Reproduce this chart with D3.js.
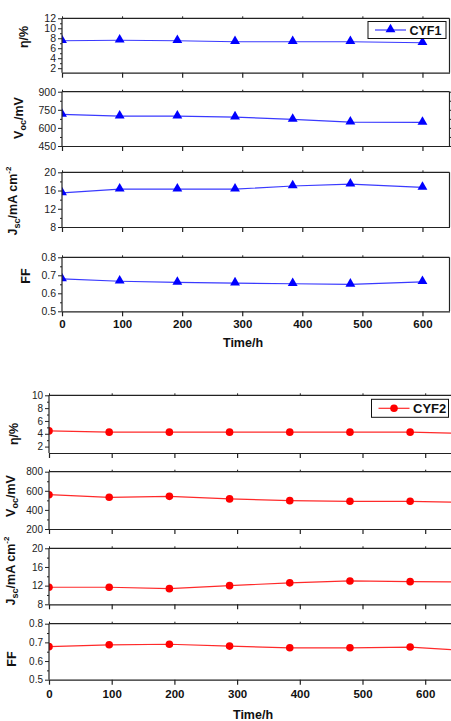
<!DOCTYPE html>
<meta charset="utf-8">
<head>
<title>CYF1 / CYF2 stability</title>
<script src="https://cdn.jsdelivr.net/npm/d3@7"></script>
<style>
body { margin:0; background:#fff; }
text { font-family: Arial, "Liberation Sans", sans-serif; }
</style>
</head>
<body>
<svg id=mySVG width=451 height=721></svg>

<script>
// ---- data ----
var time1 = [0, 96, 192, 288, 384, 480, 600]
var eta1  = [7.5, 7.6, 7.5, 7.3, 7.3, 7.3, 7.1]
var voc1  = [712, 697, 697, 690, 670, 648, 645]
var jsc1  = [15.5, 16.3, 16.3, 16.3, 17.0, 17.4, 16.7]
var ff1   = [0.68, 0.667, 0.661, 0.657, 0.653, 0.65, 0.664]

var time2 = [0, 96, 192, 288, 384, 480, 576, 672]
var eta2  = [4.45, 4.25, 4.25, 4.25, 4.25, 4.25, 4.25, 4.05]
var voc2  = [559, 532, 542, 515, 497, 490, 490, 478]
var jsc2  = [11.65, 11.65, 11.35, 12.0, 12.6, 13.0, 12.85, 12.8]
var ff2   = [0.677, 0.687, 0.69, 0.68, 0.671, 0.671, 0.675, 0.655]

var xTicks = [0, 100, 200, 300, 400, 500, 600]

var svg = d3.select("#mySVG")
var clipN = 0

//---layout of the two figures---
var fig1 = {
  name: "CYF1", color: "#0000ff", line: "#3a3aff", marker: "triangle",
  time: time1, xDomain: [0, 645], xRange: [62, 449.5], rightFrame: true,
  tickFont: 10.5, xTickY: 328.5, titleX: 243, titleY: 347,
  legend: {x: 368, y: 21.5, w: 78, h: 17, font: 12.5},
  panels: [
    {vals: eta1, dom: [1.1, 12], r: [72.7, 18.3], major: [2,4,6,8,10,12], minor: [3,5,7,9,11], lab: "eta", lx: 27.5, ly: 37},
    {vals: voc1, dom: [450, 900], r: [146, 91.7], major: [450,600,750,900], minor: [525,675,825], lab: "voc", lx: 23, ly: 118, right: true},
    {vals: jsc1, dom: [8, 20], r: [227, 172.3], major: [8,12,16,20], minor: [10,14,18], lab: "jsc", lx: 17, ly: 201},
    {vals: ff1, dom: [0.5, 0.8], r: [311.3, 257.3], major: [0.5,0.6,0.7,0.8], minor: [0.55,0.65,0.75], lab: "ff", lx: 29.5, ly: 276}
  ]
}
var fig2 = {
  name: "CYF2", color: "#ff0000", line: "#ff2a2a", marker: "circle",
  time: time2, xDomain: [0, 700], xRange: [49, 49 + 700 * 0.627], rightFrame: false,
  tickFont: 10, xTickY: 698, titleX: 253, titleY: 718.5,
  legend: {x: 371.5, y: 399.3, w: 77, h: 18, font: 13},
  panels: [
    {vals: eta2, dom: [1, 10], r: [453, 395.3], major: [2,4,6,8,10], minor: [3,5,7,9], lab: "eta", lx: 18, ly: 434},
    {vals: voc2, dom: [200, 800], r: [529, 471.7], major: [200,400,600,800], minor: [300,500,700], lab: "voc", lx: 15, ly: 496},
    {vals: jsc2, dom: [8, 20], r: [604.3, 548.3], major: [8,12,16,20], minor: [10,14,18], lab: "jsc", lx: 15, ly: 571},
    {vals: ff2, dom: [0.5, 0.8], r: [679.7, 623.7], major: [0.5,0.6,0.7,0.8], minor: [0.55,0.65,0.75], lab: "ff", lx: 16, ly: 659}
  ]
}

function drawMarker(g, kind, x, y, color)
{
  if(kind == "triangle")
    g.append("path")
     .attr("d", d3.symbol().type(d3.symbolTriangle).size(42)())
     .attr("transform", "translate(" + x + "," + (y - 0.5) + ")")
     .attr("fill", color)
  else
    g.append("circle").attr("cx", x).attr("cy", y).attr("r", 3.8).attr("fill", color)
}

function yLabel(g, kind, x, y)
{
  var t = g.append("text")
    .attr("transform", "translate(" + x + "," + y + ") rotate(-90)")
    .attr("text-anchor", "middle")
    .attr("font-weight", "bold")
    .attr("font-size", 12.5)
    .attr("fill", "#111")
  if(kind == "eta") t.text("η/%")
  if(kind == "ff") t.text("FF")
  if(kind == "voc") {
    t.append("tspan").text("V")
    t.append("tspan").attr("font-size", 9).attr("dy", 3).text("oc")
    t.append("tspan").attr("dy", -3).text("/mV")
  }
  if(kind == "jsc") {
    t.append("tspan").text("J")
    t.append("tspan").attr("font-size", 9).attr("dy", 3).text("sc")
    t.append("tspan").attr("dy", -3).text("/mA cm")
    t.append("tspan").attr("font-size", 8).attr("dy", -6).text("-2")
  }
}

function buildFigure(f)
{
  var x = d3.scaleLinear().domain(f.xDomain).range(f.xRange)
  var fg = svg.append("g")

  f.panels.forEach(function(p, i) {
    var y = d3.scaleLinear().domain(p.dom).range(p.r)
    var pg = fg.append("g")
    var top = p.r[1], bot = p.r[0]
    var left = f.xRange[0], right = f.xRange[1]

    //---clip for line and markers---
    var cid = "clip" + (clipN++)
    pg.append("clipPath").attr("id", cid).append("rect")
      .attr("x", left).attr("y", top).attr("width", right - left).attr("height", bot - top)

    var dg = pg.append("g").attr("clip-path", "url(#" + cid + ")")
    var pts = f.time.map(function(t, k) { return [x(t), y(p.vals[k])] })
    dg.append("path")
      .attr("d", d3.line()(pts))
      .attr("fill", "none")
      .attr("stroke", f.line)
      .attr("stroke-width", 1.2)
    pts.forEach(function(q) { drawMarker(dg, f.marker, q[0], q[1], f.color) })

    //---frame---
    var fr = pg.append("g").attr("stroke", "#222").attr("stroke-width", 1.2)
    fr.append("line").attr("x1", left).attr("x2", right).attr("y1", top).attr("y2", top)
    if(f.rightFrame)
      fr.append("line").attr("x1", right).attr("x2", right).attr("y1", top).attr("y2", bot)

    //---x ticks bottom (labels only on last panel)---
    var xa = pg.append("g")
      .attr("transform", "translate(0," + bot + ")")
      .call(d3.axisBottom(x).tickValues(xTicks).tickSize(5).tickSizeOuter(0)
        .tickFormat(i == 3 ? d3.format("d") : ""))
    xa.select(".domain").attr("stroke", "#222").attr("stroke-width", 1.2)
    xa.selectAll(".tick line").attr("stroke", "#222").attr("stroke-width", 1.2)
    xa.selectAll(".tick text")
      .attr("font-size", 11.5).attr("font-weight", "bold").attr("fill", "#111")
      .attr("font-family", "Arial, 'Liberation Sans', sans-serif")
      .attr("dy", null).attr("y", f.xTickY - bot)

    //---x ticks top---
    var xt = pg.append("g")
      .attr("transform", "translate(0," + top + ")")
      .call(d3.axisTop(x).tickValues(xTicks).tickSize(2).tickSizeOuter(0).tickFormat(""))
    xt.select(".domain").remove()
    xt.selectAll(".tick line").attr("stroke", "#222")

    //---y axis---
    var ya = pg.append("g")
      .attr("transform", "translate(" + left + ",0)")
      .call(d3.axisLeft(y).tickValues(p.major).tickSize(4).tickSizeOuter(0).tickPadding(2)
        .tickFormat(function(d) { return p.dom[1] < 1 ? d3.format(".1f")(d) : d3.format("d")(d) }))
    ya.select(".domain").attr("stroke", "#222").attr("stroke-width", 1.2)
      .attr("d", "M0," + bot + "V" + top)
    ya.selectAll(".tick line").attr("stroke", "#222")
    ya.selectAll(".tick text")
      .attr("font-size", f.tickFont).attr("fill", "#222")
      .attr("font-family", "Arial, 'Liberation Sans', sans-serif")
    var ym = pg.append("g")
      .attr("transform", "translate(" + left + ",0)")
      .call(d3.axisLeft(y).tickValues(p.minor).tickSize(2).tickFormat(""))
    ym.select(".domain").remove()
    ym.selectAll(".tick line").attr("stroke", "#222")

    if(p.right) {
      var yr = pg.append("g")
        .attr("transform", "translate(" + right + ",0)")
        .call(d3.axisRight(y).tickValues(p.major.concat(p.minor)).tickSize(2).tickFormat(""))
      yr.select(".domain").remove()
      yr.selectAll(".tick line").attr("stroke", "#222")
    }

    yLabel(pg, p.lab, p.lx, p.ly)
  })

  //---x title---
  fg.append("text")
    .attr("x", f.titleX).attr("y", f.titleY)
    .attr("text-anchor", "middle").attr("font-weight", "bold").attr("font-size", 12.5)
    .attr("fill", "#111")
    .text("Time/h")

  //---legend---
  var L = f.legend
  var lg = fg.append("g")
  lg.append("rect").attr("x", L.x).attr("y", L.y).attr("width", L.w).attr("height", L.h)
    .attr("fill", "#fff").attr("stroke", "#111").attr("stroke-width", 1)
  var ly = L.y + L.h / 2
  lg.append("line").attr("x1", L.x + 7).attr("x2", L.x + 38).attr("y1", ly).attr("y2", ly)
    .attr("stroke", f.line).attr("stroke-width", 1.2)
  drawMarker(lg, f.marker, L.x + 22.5, ly, f.color)
  lg.append("text").attr("x", L.x + 41.5).attr("y", ly + L.font * 0.36)
    .attr("font-weight", "bold").attr("font-size", L.font).attr("fill", "#111")
    .text(f.name)
}

buildFigure(fig1)
buildFigure(fig2)
</script>
</body>
